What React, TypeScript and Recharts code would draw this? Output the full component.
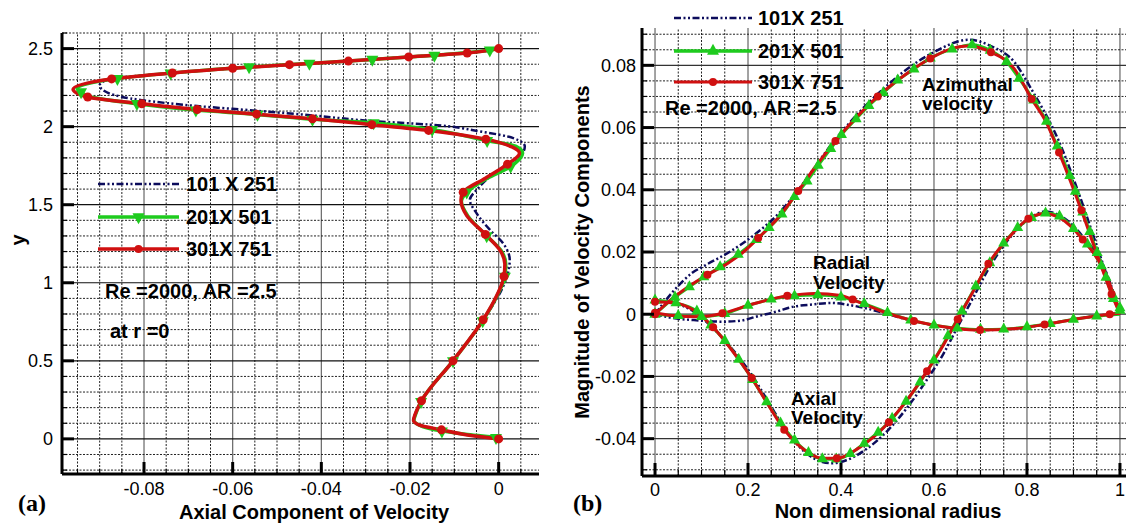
import { LineChart, Line, XAxis, YAxis, ReferenceLine, Legend } from 'recharts';

const FONT = '"Liberation Sans", Arial, Helvetica, sans-serif';
const RED = '#d01010';
const GREEN = '#1ecb1e';
const NAVY = '#0c0c5c';
const DASH_DOT_DOT = '7 2.5 2 2.5 2 2.5';

type PtA = { y: number; x: number; m?: number };
type PtB = { x: number; v: number; m?: number };

// (a) axial velocity along the axis r = 0, m marks a plotted symbol
const axialAxis301: PtA[] = [
  { y: 0, x: 0, m: 1 }, { y: 0.03, x: -0.008 }, { y: 0.058, x: -0.0129, m: 1 }, { y: 0.09, x: -0.018 },
  { y: 0.12, x: -0.0192 }, { y: 0.16, x: -0.0188 }, { y: 0.244, x: -0.0174, m: 1 }, { y: 0.5, x: -0.0103, m: 1 },
  { y: 0.763, x: -0.0035, m: 1 }, { y: 0.92, x: -0.0004 }, { y: 1.04, x: 0.0012, m: 1 }, { y: 1.12, x: 0.0014 },
  { y: 1.2, x: 0.0005 }, { y: 1.31, x: -0.003, m: 1 }, { y: 1.43, x: -0.0072 }, { y: 1.53, x: -0.0085 },
  { y: 1.58, x: -0.008, m: 1 }, { y: 1.67, x: -0.003 }, { y: 1.76, x: 0.002, m: 1 }, { y: 1.83, x: 0.0047 },
  { y: 1.87, x: 0.003 }, { y: 1.92, x: -0.0029, m: 1 }, { y: 1.976, x: -0.0158, m: 1 }, { y: 2.013, x: -0.0286, m: 1 },
  { y: 2.05, x: -0.042, m: 1 }, { y: 2.08, x: -0.0546, m: 1 }, { y: 2.11, x: -0.068, m: 1 }, { y: 2.147, x: -0.0805, m: 1 },
  { y: 2.19, x: -0.0927, m: 1 }, { y: 2.24, x: -0.096 }, { y: 2.306, x: -0.0873, m: 1 }, { y: 2.344, x: -0.0736, m: 1 },
  { y: 2.374, x: -0.06, m: 1 }, { y: 2.397, x: -0.0472, m: 1 }, { y: 2.42, x: -0.0339, m: 1 }, { y: 2.447, x: -0.0203, m: 1 },
  { y: 2.472, x: -0.0071, m: 1 }, { y: 2.5, x: 0, m: 1 },
];

const axialAxis201: PtA[] = [
  { y: 0, x: 0 }, { y: 0.008, x: -0.0006, m: 1 }, { y: 0.03, x: -0.0075 }, { y: 0.05, x: -0.0128, m: 1 },
  { y: 0.09, x: -0.018 }, { y: 0.12, x: -0.0191 }, { y: 0.16, x: -0.0187 }, { y: 0.239, x: -0.0175, m: 1 },
  { y: 0.5, x: -0.0103, m: 1 }, { y: 0.756, x: -0.0036, m: 1 }, { y: 0.92, x: -0.0003 }, { y: 1.04, x: 0.0014, m: 1 },
  { y: 1.12, x: 0.0016 }, { y: 1.2, x: 0.0007 }, { y: 1.3, x: -0.0027, m: 1 }, { y: 1.43, x: -0.007 },
  { y: 1.52, x: -0.0084 }, { y: 1.58, x: -0.0072, m: 1 }, { y: 1.67, x: -0.0025 }, { y: 1.745, x: 0.0027, m: 1 },
  { y: 1.83, x: 0.0054 }, { y: 1.875, x: 0.0038 }, { y: 1.91, x: -0.0026, m: 1 }, { y: 1.98, x: -0.015, m: 1 },
  { y: 2.024, x: -0.0282, m: 1 }, { y: 2.047, x: -0.042, m: 1 }, { y: 2.078, x: -0.0544, m: 1 }, { y: 2.106, x: -0.0683, m: 1 },
  { y: 2.147, x: -0.0816, m: 1 }, { y: 2.19, x: -0.092 }, { y: 2.222, x: -0.0942, m: 1 }, { y: 2.245, x: -0.095 },
  { y: 2.308, x: -0.086, m: 1 }, { y: 2.343, x: -0.074, m: 1 }, { y: 2.382, x: -0.0563, m: 1 }, { y: 2.405, x: -0.0427, m: 1 },
  { y: 2.43, x: -0.0285, m: 1 }, { y: 2.457, x: -0.0145, m: 1 }, { y: 2.49, x: -0.002, m: 1 }, { y: 2.5, x: 0 },
];

const axialAxis101: PtA[] = [
  { y: 0, x: 0 }, { y: 0.03, x: -0.008 }, { y: 0.058, x: -0.0129 }, { y: 0.09, x: -0.018 }, { y: 0.12, x: -0.0192 },
  { y: 0.16, x: -0.0188 }, { y: 0.244, x: -0.0174 }, { y: 0.5, x: -0.0103 }, { y: 0.763, x: -0.0035 }, { y: 0.976, x: 0.001 },
  { y: 1.062, x: 0.0021 }, { y: 1.147, x: 0.0025 }, { y: 1.253, x: 0.001 }, { y: 1.34, x: -0.002 }, { y: 1.446, x: -0.005 },
  { y: 1.531, x: -0.0065 }, { y: 1.6, x: -0.0048 }, { y: 1.713, x: -0.0005 }, { y: 1.756, x: 0.0017 }, { y: 1.81, x: 0.0048 },
  { y: 1.874, x: 0.0059 }, { y: 1.927, x: 0.0033 }, { y: 1.97, x: -0.0043 }, { y: 2.013, x: -0.0155 }, { y: 2.035, x: -0.028 },
  { y: 2.072, x: -0.042 }, { y: 2.102, x: -0.0546 }, { y: 2.132, x: -0.068 }, { y: 2.17, x: -0.0805 }, { y: 2.215, x: -0.088 },
  { y: 2.265, x: -0.09 }, { y: 2.3, x: -0.0884 }, { y: 2.344, x: -0.0736 }, { y: 2.374, x: -0.06 }, { y: 2.397, x: -0.0472 },
  { y: 2.42, x: -0.0339 }, { y: 2.447, x: -0.0203 }, { y: 2.472, x: -0.0071 }, { y: 2.5, x: 0 },
];

// (b) velocity components against radius
const azimuthal301: PtB[] = [
  { x: 0, v: 0, m: 1 }, { x: 0.031, v: 0.0043 }, { x: 0.07, v: 0.0087 }, { x: 0.1127, v: 0.0127, m: 1 },
  { x: 0.156, v: 0.0163 }, { x: 0.19, v: 0.02 }, { x: 0.222, v: 0.0245, m: 1 }, { x: 0.265, v: 0.031 },
  { x: 0.308, v: 0.0396, m: 1 }, { x: 0.343, v: 0.047 }, { x: 0.388, v: 0.0557, m: 1 }, { x: 0.435, v: 0.0636 },
  { x: 0.479, v: 0.07, m: 1 }, { x: 0.538, v: 0.077 }, { x: 0.592, v: 0.0822, m: 1 }, { x: 0.635, v: 0.0852 },
  { x: 0.672, v: 0.0862 }, { x: 0.7225, v: 0.0842, m: 1 }, { x: 0.772, v: 0.079 }, { x: 0.81, v: 0.0692, m: 1 },
  { x: 0.842, v: 0.0615 }, { x: 0.869, v: 0.052, m: 1 }, { x: 0.917, v: 0.0334, m: 1 }, { x: 0.95, v: 0.0195 },
  { x: 0.982, v: 0.0065, m: 1 }, { x: 1, v: 0 },
];

const azimuthal201: PtB[] = [
  { x: 0, v: 0, m: 1 }, { x: 0.043, v: 0.0055, m: 1 }, { x: 0.074, v: 0.0088, m: 1 }, { x: 0.105, v: 0.012, m: 1 },
  { x: 0.14, v: 0.0152, m: 1 }, { x: 0.179, v: 0.0192, m: 1 }, { x: 0.218, v: 0.024, m: 1 }, { x: 0.2455, v: 0.0278, m: 1 },
  { x: 0.273, v: 0.0322, m: 1 }, { x: 0.3, v: 0.0378, m: 1 }, { x: 0.327, v: 0.0428, m: 1 }, { x: 0.351, v: 0.0478, m: 1 },
  { x: 0.378, v: 0.0532, m: 1 }, { x: 0.401, v: 0.0577, m: 1 }, { x: 0.4326, v: 0.0628, m: 1 }, { x: 0.46, v: 0.067, m: 1 },
  { x: 0.491, v: 0.0712, m: 1 }, { x: 0.522, v: 0.0752, m: 1 }, { x: 0.557, v: 0.0788, m: 1 }, { x: 0.592, v: 0.0823, m: 1 },
  { x: 0.639, v: 0.0852, m: 1 }, { x: 0.682, v: 0.0866, m: 1 }, { x: 0.721, v: 0.0848, m: 1 }, { x: 0.756, v: 0.0812, m: 1 },
  { x: 0.783, v: 0.0758, m: 1 }, { x: 0.8145, v: 0.0688, m: 1 }, { x: 0.842, v: 0.062, m: 1 }, { x: 0.865, v: 0.054, m: 1 },
  { x: 0.892, v: 0.0445, m: 1 }, { x: 0.904, v: 0.0395, m: 1 }, { x: 0.92, v: 0.0328, m: 1 }, { x: 0.935, v: 0.0265, m: 1 },
  { x: 0.951, v: 0.0198, m: 1 }, { x: 0.97, v: 0.0118, m: 1 }, { x: 0.986, v: 0.005, m: 1 }, { x: 1, v: 0.0012, m: 1 },
];

const azimuthal101: PtB[] = [
  { x: 0, v: 0 }, { x: 0.04, v: 0.0075 }, { x: 0.08, v: 0.0133 }, { x: 0.109, v: 0.0158 }, { x: 0.16, v: 0.02 },
  { x: 0.222, v: 0.0265 }, { x: 0.265, v: 0.0322 }, { x: 0.308, v: 0.04 }, { x: 0.388, v: 0.0562 }, { x: 0.479, v: 0.0708 },
  { x: 0.592, v: 0.0836 }, { x: 0.675, v: 0.0882 }, { x: 0.7225, v: 0.0862 }, { x: 0.772, v: 0.0812 }, { x: 0.81, v: 0.0722 },
  { x: 0.869, v: 0.0555 }, { x: 0.917, v: 0.0365 }, { x: 0.95, v: 0.022 }, { x: 0.982, v: 0.008 }, { x: 1, v: 0 },
];

const radial301: PtB[] = [
  { x: 0, v: 0.0005, m: 1 }, { x: 0.037, v: -0.0004 }, { x: 0.095, v: -0.0008 }, { x: 0.145, v: 0.0003, m: 1 },
  { x: 0.21, v: 0.0033 }, { x: 0.2845, v: 0.0059, m: 1 }, { x: 0.343, v: 0.0067 }, { x: 0.4, v: 0.006 },
  { x: 0.425, v: 0.0047, m: 1 }, { x: 0.483, v: 0.0012 }, { x: 0.557, v: -0.0022, m: 1 }, { x: 0.647, v: -0.0046 },
  { x: 0.699, v: -0.0051, m: 1 }, { x: 0.77, v: -0.0047 }, { x: 0.838, v: -0.0033, m: 1 }, { x: 0.92, v: -0.0012 },
  { x: 0.978, v: 0, m: 1 }, { x: 1, v: 0.0003 },
];

const radial201: PtB[] = [
  { x: 0, v: 0, m: 1 }, { x: 0.05, v: -0.0005, m: 1 }, { x: 0.1, v: -0.0008, m: 1 }, { x: 0.15, v: 0.0002, m: 1 },
  { x: 0.2, v: 0.0028, m: 1 }, { x: 0.25, v: 0.0048, m: 1 }, { x: 0.3, v: 0.0059, m: 1 }, { x: 0.35, v: 0.0062, m: 1 },
  { x: 0.4, v: 0.0055, m: 1 }, { x: 0.45, v: 0.0034, m: 1 }, { x: 0.5, v: 0.0005, m: 1 }, { x: 0.55, v: -0.0019, m: 1 },
  { x: 0.6, v: -0.0035, m: 1 }, { x: 0.65, v: -0.0045, m: 1 }, { x: 0.7, v: -0.0049, m: 1 }, { x: 0.75, v: -0.0048, m: 1 },
  { x: 0.8, v: -0.0041, m: 1 }, { x: 0.85, v: -0.003, m: 1 }, { x: 0.9, v: -0.0017, m: 1 }, { x: 0.95, v: -0.0006, m: 1 },
  { x: 1, v: 0 },
];

const radial101: PtB[] = [
  { x: 0, v: 0 }, { x: 0.037, v: -0.0012 }, { x: 0.095, v: -0.002 }, { x: 0.144, v: -0.0024 }, { x: 0.187, v: -0.002 },
  { x: 0.217, v: -0.0008 }, { x: 0.265, v: 0.001 }, { x: 0.288, v: 0.0021 }, { x: 0.343, v: 0.0032 }, { x: 0.38, v: 0.0036 },
  { x: 0.42, v: 0.0029 }, { x: 0.483, v: 0.0008 }, { x: 0.53, v: -0.0012 }, { x: 0.557, v: -0.0022 }, { x: 0.647, v: -0.0046 },
  { x: 0.699, v: -0.0051 }, { x: 0.77, v: -0.0047 }, { x: 0.838, v: -0.0033 }, { x: 0.92, v: -0.0012 }, { x: 0.978, v: 0 },
  { x: 1, v: 0.0003 },
];

const axial301: PtB[] = [
  { x: 0, v: 0.004, m: 1 }, { x: 0.04, v: 0.0037 }, { x: 0.08, v: 0.0016 }, { x: 0.125, v: -0.0042, m: 1 },
  { x: 0.165, v: -0.0115 }, { x: 0.208, v: -0.0205, m: 1 }, { x: 0.245, v: -0.0295 }, { x: 0.278, v: -0.0371, m: 1 },
  { x: 0.32, v: -0.0435 }, { x: 0.36, v: -0.0463 }, { x: 0.391, v: -0.0463, m: 1 }, { x: 0.44, v: -0.0428 },
  { x: 0.503, v: -0.0347, m: 1 }, { x: 0.545, v: -0.027 }, { x: 0.585, v: -0.0183, m: 1 }, { x: 0.62, v: -0.01 },
  { x: 0.651, v: -0.0016, m: 1 }, { x: 0.685, v: 0.0075 }, { x: 0.717, v: 0.0162, m: 1 }, { x: 0.76, v: 0.0245 },
  { x: 0.803, v: 0.0307, m: 1 }, { x: 0.838, v: 0.0323 }, { x: 0.87, v: 0.031 }, { x: 0.92, v: 0.024, m: 1 },
  { x: 0.966, v: 0.014 }, { x: 1, v: 0.0005 },
];

const axial201: PtB[] = [
  { x: 0, v: 0.0045, m: 1 }, { x: 0.045, v: 0.0036, m: 1 }, { x: 0.09, v: 0.001, m: 1 }, { x: 0.12, v: -0.0035, m: 1 },
  { x: 0.15, v: -0.0085, m: 1 }, { x: 0.18, v: -0.0145, m: 1 }, { x: 0.21, v: -0.021, m: 1 }, { x: 0.24, v: -0.0282, m: 1 },
  { x: 0.27, v: -0.035, m: 1 }, { x: 0.3, v: -0.0405, m: 1 }, { x: 0.33, v: -0.0445, m: 1 }, { x: 0.36, v: -0.0465, m: 1 },
  { x: 0.39, v: -0.0466, m: 1 }, { x: 0.42, v: -0.0448, m: 1 }, { x: 0.45, v: -0.0415, m: 1 }, { x: 0.48, v: -0.038, m: 1 },
  { x: 0.51, v: -0.0335, m: 1 }, { x: 0.54, v: -0.028, m: 1 }, { x: 0.57, v: -0.0218, m: 1 }, { x: 0.6, v: -0.0148, m: 1 },
  { x: 0.63, v: -0.007, m: 1 }, { x: 0.66, v: 0.001, m: 1 }, { x: 0.69, v: 0.009, m: 1 }, { x: 0.72, v: 0.0165, m: 1 },
  { x: 0.75, v: 0.0228, m: 1 }, { x: 0.78, v: 0.0278, m: 1 }, { x: 0.81, v: 0.031, m: 1 }, { x: 0.84, v: 0.0325, m: 1 },
  { x: 0.87, v: 0.0315, m: 1 }, { x: 0.9, v: 0.0275, m: 1 }, { x: 0.93, v: 0.0225, m: 1 }, { x: 0.96, v: 0.0155, m: 1 },
  { x: 0.985, v: 0.006, m: 1 }, { x: 1, v: 0.002, m: 1 },
];

const axial101: PtB[] = [
  { x: 0, v: 0.004 }, { x: 0.04, v: 0.0035 }, { x: 0.08, v: 0.0012 }, { x: 0.125, v: -0.0045 }, { x: 0.165, v: -0.011 },
  { x: 0.208, v: -0.0195 }, { x: 0.245, v: -0.0285 }, { x: 0.278, v: -0.0365 }, { x: 0.32, v: -0.044 }, { x: 0.36, v: -0.0475 },
  { x: 0.38, v: -0.0479 }, { x: 0.41, v: -0.047 }, { x: 0.44, v: -0.0448 }, { x: 0.503, v: -0.037 }, { x: 0.545, v: -0.0295 },
  { x: 0.585, v: -0.021 }, { x: 0.62, v: -0.0128 }, { x: 0.651, v: -0.004 }, { x: 0.685, v: 0.0055 }, { x: 0.717, v: 0.0145 },
  { x: 0.76, v: 0.024 }, { x: 0.803, v: 0.0305 }, { x: 0.838, v: 0.033 }, { x: 0.87, v: 0.0318 }, { x: 0.92, v: 0.025 },
  { x: 0.966, v: 0.015 }, { x: 1, v: 0.0005 },
];

// tick positions (minor every step, labelled majors)
const span = (from: number, to: number, step: number) => {
  const out: number[] = [];
  const n = Math.round((to - from) / step);
  for (let i = 0; i <= n; i++) out.push(Number((from + i * step).toFixed(4)));
  return out;
};
const aXTicks = span(-0.095, 0.005, 0.005);
const aXMajor = [-0.08, -0.06, -0.04, -0.02, 0];
const aYTicks = span(-0.2, 2.6, 0.1);
const aYMajor = [0, 0.5, 1, 1.5, 2, 2.5];
const bXTicks = span(0, 1, 0.05);
const bXMajor = [0, 0.2, 0.4, 0.6, 0.8, 1];
const bYTicks = span(-0.05, 0.09, 0.005);
const bYMajor = [-0.04, -0.02, 0, 0.02, 0.04, 0.06, 0.08];

const isMajor = (v: number, majors: number[]) => majors.some((m) => Math.abs(m - v) < 1e-6);
const fmt = (v: number) => String(Number(v.toFixed(3)));

const X_GAP = 8;
const xTick = (majors: number[]) => (p: any) => {
  const major = isMajor(p.payload.value, majors);
  const ay = p.y - X_GAP;
  return (
    <g>
      <line x1={p.x} x2={p.x} y1={ay} y2={ay - (major ? 12 : 5)} stroke="#000" strokeWidth={major ? 3 : 1.2} />
      {major && (
        <text x={p.x} y={ay + X_GAP} dy="0.71em" textAnchor="middle" fontSize={18} fontFamily={FONT} fill="#000">
          {fmt(p.payload.value)}
        </text>
      )}
    </g>
  );
};

const yTick = (majors: number[], gap: number) => (p: any) => {
  const major = isMajor(p.payload.value, majors);
  const ax = p.x + gap;
  return (
    <g>
      <line x1={ax} x2={ax + (major ? 12 : 5)} y1={p.y} y2={p.y} stroke="#000" strokeWidth={major ? 3 : 1.2} />
      {major && (
        <text x={p.x} y={p.y} dy="0.36em" textAnchor="end" fontSize={18} fontFamily={FONT} fill="#000">
          {fmt(p.payload.value)}
        </text>
      )}
    </g>
  );
};

const grid = (ticks: number[], majors: number[], axis: 'x' | 'y', majorColor: string) =>
  ticks.map((t) =>
    isMajor(t, majors) ? (
      <ReferenceLine key={`${axis}${t}`} {...{ [axis]: t }} stroke={majorColor} strokeWidth={1.2} />
    ) : (
      <ReferenceLine key={`${axis}${t}`} {...{ [axis]: t }} stroke="#222" strokeWidth={1} strokeDasharray="2 1.5" />
    ),
  );

const redDot = (r: number) => (p: any) =>
  p.payload && p.payload.m ? (
    <circle key={`r${p.index}`} cx={p.cx} cy={p.cy} r={r} fill={RED} />
  ) : (
    <g key={`r${p.index}`} />
  );

const triPoints = (cx: number, cy: number, w: number, h: number, down: boolean) => {
  const s = down ? -1 : 1;
  return `${cx},${cy - (s * h * 2) / 3} ${cx - w / 2},${cy + (s * h) / 3} ${cx + w / 2},${cy + (s * h) / 3}`;
};

const triDot = (down: boolean, w: number, h: number) => (p: any) =>
  p.payload && p.payload.m ? (
    <polygon key={`t${p.index}`} points={triPoints(p.cx, p.cy, w, h, down)} fill={GREEN} />
  ) : (
    <g key={`t${p.index}`} />
  );

type Row = { label: string; stroke: string; width: number; dash?: string; marker?: 'dot' | 'up' | 'down' };
const legendA: Row[] = [
  { label: '101 X 251', stroke: NAVY, width: 2.5, dash: DASH_DOT_DOT },
  { label: '201X 501', stroke: GREEN, width: 3.5, marker: 'down' },
  { label: '301X 751', stroke: RED, width: 3.5, marker: 'dot' },
];
const legendB: Row[] = [
  { label: '101X 251', stroke: NAVY, width: 2.5, dash: DASH_DOT_DOT },
  { label: '201X 501', stroke: GREEN, width: 3.5, marker: 'up' },
  { label: '301X 751', stroke: RED, width: 3, marker: 'dot' },
];

function LegendBox({ rows, rowY, lineLen, textX }: { rows: Row[]; rowY: number[]; lineLen: number; textX: number }) {
  const mid = lineLen / 2;
  return (
    <svg width={200} height={95} style={{ display: 'block', overflow: 'visible' }}>
      {rows.map((r, i) => (
        <g key={r.label}>
          <line x1={0} x2={lineLen} y1={rowY[i]} y2={rowY[i]} stroke={r.stroke} strokeWidth={r.width} strokeDasharray={r.dash} />
          {r.marker === 'dot' && <circle cx={mid} cy={rowY[i]} r={4} fill={RED} />}
          {r.marker === 'up' && <polygon points={triPoints(mid, rowY[i], 12, 11, false)} fill={GREEN} />}
          {r.marker === 'down' && <polygon points={triPoints(mid, rowY[i], 12, 11, true)} fill={GREEN} />}
          <text x={textX} y={rowY[i]} dy="0.36em" fontFamily={FONT} fontWeight="bold" fontSize={20} fill="#000">
            {r.label}
          </text>
        </g>
      ))}
    </svg>
  );
}

const Note = ({ left, mid, children, size = 20 }: { left: number; mid: number; children: any; size?: number }) => (
  <div
    style={{
      position: 'absolute',
      left,
      top: mid - size / 2,
      fontFamily: FONT,
      fontWeight: 'bold',
      fontSize: size,
      lineHeight: `${size}px`,
      whiteSpace: 'nowrap',
      color: '#000',
    }}
  >
    {children}
  </div>
);

const axisLine = { stroke: '#000', strokeWidth: 3 };
const titleStyle = { position: 'absolute' as const, width: 400, textAlign: 'center' as const, fontFamily: FONT, fontWeight: 'bold', fontSize: 20, lineHeight: '20px' };
const serif = '"Liberation Serif", "DejaVu Serif", serif';

export default function App() {
  return (
    <div style={{ position: 'absolute', left: 0, top: 0, width: 1129, height: 525, background: '#fff', overflow: 'hidden' }}>
      <div style={{ position: 'absolute', left: 0, top: 0 }}>
        <LineChart width={560} height={525} margin={{ top: 33, right: 21, bottom: 21, left: 12 }}>
          <XAxis
            type="number"
            dataKey="x"
            domain={[-0.0985, 0.0091]}
            ticks={aXTicks}
            interval={0}
            allowDataOverflow
            height={30}
            tickSize={0}
            tickMargin={X_GAP}
            axisLine={axisLine}
            tick={xTick(aXMajor)}
          />
          <YAxis
            type="number"
            domain={[-0.225, 2.6]}
            ticks={aYTicks}
            interval={0}
            allowDataOverflow
            width={50}
            tickSize={0}
            tickMargin={9}
            axisLine={axisLine}
            tick={yTick(aYMajor, 9)}
          />
          {grid(aXTicks, aXMajor, 'x', '#666')}
          {grid(aYTicks, aYMajor, 'y', '#111')}
          <Legend
            layout="horizontal"
            verticalAlign="middle"
            align="center"
            wrapperStyle={{ left: 98, top: 170, width: 200, height: 95 }}
            content={() => <LegendBox rows={legendA} rowY={[14, 47, 79]} lineLen={81} textX={88} />}
          />
          <Line data={axialAxis101} dataKey="y" type="monotoneY" stroke={NAVY} strokeWidth={2.5} strokeDasharray={DASH_DOT_DOT} dot={false} isAnimationActive={false} />
          <Line data={axialAxis201} dataKey="y" type="monotoneY" stroke={GREEN} strokeWidth={3.5} dot={triDot(true, 12, 11)} isAnimationActive={false} />
          <Line data={axialAxis301} dataKey="y" type="monotoneY" stroke={RED} strokeWidth={3.5} dot={redDot(4.5)} isAnimationActive={false} />
        </LineChart>
      </div>

      <div style={{ position: 'absolute', left: 560, top: 0 }}>
        <LineChart width={569} height={525} margin={{ top: 28, right: 3, bottom: 19, left: 12 }}>
          <XAxis
            type="number"
            dataKey="x"
            domain={[-0.028, 1.013]}
            ticks={bXTicks}
            interval={0}
            allowDataOverflow
            height={30}
            tickSize={0}
            tickMargin={7}
            axisLine={axisLine}
            tick={xTick(bXMajor)}
          />
          <YAxis
            type="number"
            domain={[-0.052, 0.092]}
            ticks={bYTicks}
            interval={0}
            allowDataOverflow
            width={70}
            tickSize={0}
            tickMargin={6}
            axisLine={axisLine}
            tick={yTick(bYMajor, 6)}
          />
          {grid(bXTicks, bXMajor, 'x', '#666')}
          {grid(bYTicks, bYMajor, 'y', '#333')}
          <Legend
            layout="horizontal"
            verticalAlign="middle"
            align="center"
            wrapperStyle={{ left: 114, top: 4, width: 200, height: 95 }}
            content={() => <LegendBox rows={legendB} rowY={[14, 47, 78]} lineLen={78} textX={84} />}
          />
          <Line data={azimuthal101} dataKey="v" type="monotone" stroke={NAVY} strokeWidth={2.5} strokeDasharray={DASH_DOT_DOT} dot={false} isAnimationActive={false} />
          <Line data={radial101} dataKey="v" type="monotone" stroke={NAVY} strokeWidth={2.5} strokeDasharray={DASH_DOT_DOT} dot={false} isAnimationActive={false} />
          <Line data={axial101} dataKey="v" type="monotone" stroke={NAVY} strokeWidth={2.5} strokeDasharray={DASH_DOT_DOT} dot={false} isAnimationActive={false} />
          <Line data={azimuthal201} dataKey="v" type="monotone" stroke={GREEN} strokeWidth={3} dot={triDot(false, 11, 10)} isAnimationActive={false} />
          <Line data={radial201} dataKey="v" type="monotone" stroke={GREEN} strokeWidth={3} dot={triDot(false, 11, 10)} isAnimationActive={false} />
          <Line data={axial201} dataKey="v" type="monotone" stroke={GREEN} strokeWidth={3} dot={triDot(false, 11, 10)} isAnimationActive={false} />
          <Line data={azimuthal301} dataKey="v" type="monotone" stroke={RED} strokeWidth={3} dot={redDot(4)} isAnimationActive={false} />
          <Line data={radial301} dataKey="v" type="monotone" stroke={RED} strokeWidth={3} dot={redDot(4)} isAnimationActive={false} />
          <Line data={axial301} dataKey="v" type="monotone" stroke={RED} strokeWidth={3} dot={redDot(4)} isAnimationActive={false} />
        </LineChart>
      </div>

      <Note left={105} mid={291}>Re =2000, AR =2.5</Note>
      <Note left={110} mid={331}>at r =0</Note>
      <Note left={665} mid={108}>Re =2000, AR =2.5</Note>
      <Note left={922} mid={84} size={19}>Azimuthal</Note>
      <Note left={922} mid={103} size={19}>velocity</Note>
      <Note left={813} mid={262} size={19}>Radial</Note>
      <Note left={813} mid={282} size={19}>Velocity</Note>
      <Note left={791} mid={398} size={19}>Axial</Note>
      <Note left={791} mid={417} size={19}>Velocity</Note>

      <div style={{ ...titleStyle, left: 114, top: 502 }}>Axial Component of Velocity</div>
      <div style={{ ...titleStyle, left: 688, top: 501 }}>Non dimensional radius</div>
      <div style={{ ...titleStyle, left: 18 - 200, top: 240 - 10, transform: 'rotate(-90deg)' }}>y</div>
      <div style={{ ...titleStyle, left: 582 - 200, top: 252 - 10, transform: 'rotate(-90deg)' }}>Magnitude of Velocity Components</div>
      <div style={{ position: 'absolute', left: 18, top: 491, fontFamily: serif, fontWeight: 'bold', fontSize: 24, lineHeight: '24px' }}>(a)</div>
      <div style={{ position: 'absolute', left: 573, top: 491, fontFamily: serif, fontWeight: 'bold', fontSize: 24, lineHeight: '24px' }}>(b)</div>
    </div>
  );
}
